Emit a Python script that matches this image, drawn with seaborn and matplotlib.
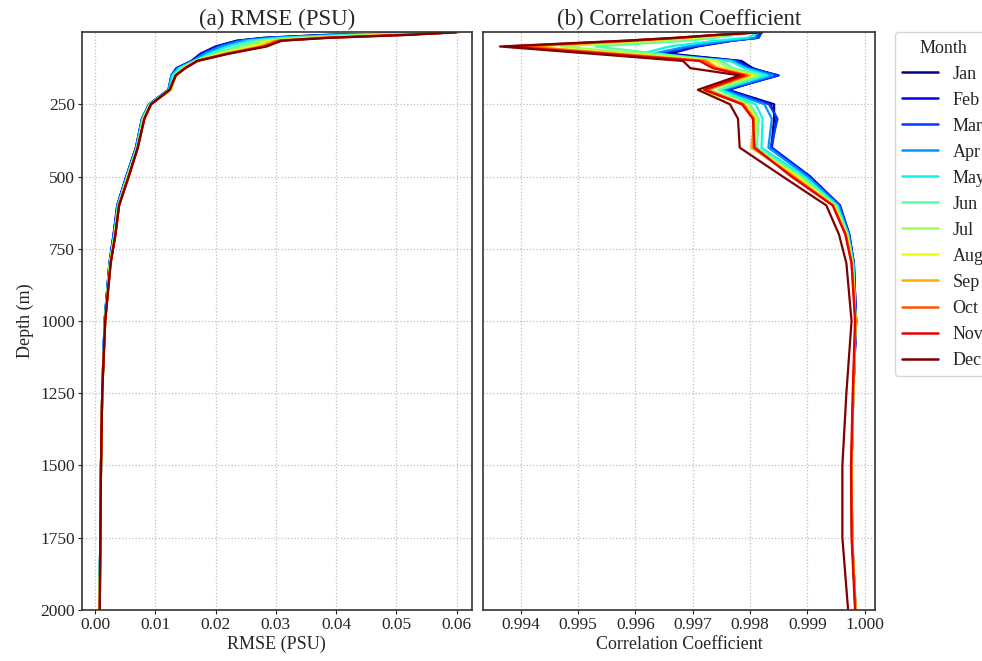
import numpy as np
import pandas as pd
import matplotlib
matplotlib.use("Agg")
import matplotlib.pyplot as plt
import seaborn as sns

# ---------------------------------------------------------------
# data
# ---------------------------------------------------------------
months = ['Jan', 'Feb', 'Mar', 'Apr', 'May', 'Jun',
          'Jul', 'Aug', 'Sep', 'Oct', 'Nov', 'Dec']

depth = [1, 10, 20, 30, 50, 75, 100, 125, 150, 200, 250, 300,
         400, 500, 600, 700, 800, 1000, 1250, 1500, 1750, 2000]

# RMSE (PSU), one list per month
rmse_jan = [0.0598, 0.0380, 0.0280, 0.0235, 0.0200, 0.0175, 0.0160, 0.0135, 0.0127, 0.0122, 0.0090,
            0.0078, 0.0068, 0.0052, 0.0037, 0.0031, 0.0024, 0.0016, 0.0012, 0.0010, 0.0009, 0.0007]
rmse_feb = [0.0598, 0.0385, 0.0283, 0.0237, 0.0202, 0.0176, 0.0161, 0.0136, 0.0127, 0.0122, 0.0090,
            0.0078, 0.0068, 0.0052, 0.0037, 0.0031, 0.0024, 0.0016, 0.0012, 0.0010, 0.0009, 0.0007]
rmse_mar = [0.0599, 0.0392, 0.0288, 0.0240, 0.0205, 0.0178, 0.0162, 0.0137, 0.0127, 0.0122, 0.0090,
            0.0078, 0.0068, 0.0052, 0.0037, 0.0031, 0.0024, 0.0016, 0.0012, 0.0010, 0.0009, 0.0007]
rmse_apr = [0.0599, 0.0400, 0.0295, 0.0245, 0.0210, 0.0182, 0.0163, 0.0138, 0.0127, 0.0122, 0.0090,
            0.0078, 0.0069, 0.0053, 0.0038, 0.0032, 0.0024, 0.0016, 0.0012, 0.0010, 0.0009, 0.0007]
rmse_may = [0.0600, 0.0420, 0.0310, 0.0255, 0.0220, 0.0190, 0.0165, 0.0140, 0.0129, 0.0123, 0.0091,
            0.0079, 0.0069, 0.0053, 0.0038, 0.0032, 0.0025, 0.0016, 0.0012, 0.0010, 0.0009, 0.0007]
rmse_jun = [0.0602, 0.0445, 0.0330, 0.0268, 0.0235, 0.0198, 0.0166, 0.0143, 0.0131, 0.0125, 0.0092,
            0.0080, 0.0070, 0.0054, 0.0039, 0.0033, 0.0025, 0.0017, 0.0012, 0.0010, 0.0009, 0.0007]
rmse_jul = [0.0604, 0.0465, 0.0345, 0.0280, 0.0250, 0.0205, 0.0167, 0.0146, 0.0133, 0.0127, 0.0092,
            0.0080, 0.0070, 0.0054, 0.0039, 0.0033, 0.0025, 0.0017, 0.0012, 0.0010, 0.0009, 0.0007]
rmse_aug = [0.0605, 0.0480, 0.0358, 0.0290, 0.0262, 0.0210, 0.0168, 0.0147, 0.0134, 0.0126, 0.0092,
            0.0081, 0.0071, 0.0055, 0.0040, 0.0033, 0.0025, 0.0017, 0.0012, 0.0010, 0.0009, 0.0008]
rmse_sep = [0.0602, 0.0495, 0.0370, 0.0298, 0.0272, 0.0215, 0.0169, 0.0148, 0.0134, 0.0125, 0.0093,
            0.0081, 0.0071, 0.0055, 0.0040, 0.0034, 0.0026, 0.0017, 0.0012, 0.0010, 0.0009, 0.0008]
rmse_oct = [0.0600, 0.0505, 0.0378, 0.0303, 0.0278, 0.0218, 0.0169, 0.0149, 0.0134, 0.0124, 0.0093,
            0.0082, 0.0071, 0.0056, 0.0040, 0.0034, 0.0026, 0.0017, 0.0012, 0.0010, 0.0009, 0.0008]
rmse_nov = [0.0599, 0.0515, 0.0385, 0.0307, 0.0282, 0.0221, 0.0170, 0.0150, 0.0134, 0.0124, 0.0093,
            0.0082, 0.0071, 0.0056, 0.0040, 0.0034, 0.0026, 0.0017, 0.0012, 0.0010, 0.0009, 0.0008]
rmse_dec = [0.0598, 0.0520, 0.0390, 0.0310, 0.0285, 0.0222, 0.0170, 0.0150, 0.0134, 0.0124, 0.0093,
            0.0082, 0.0071, 0.0056, 0.0040, 0.0034, 0.0026, 0.0017, 0.0012, 0.0010, 0.0009, 0.0008]

# correlation coefficient, one list per month
corr_jan = [0.99815, 0.99813, 0.99811, 0.99770, 0.99708, 0.99660, 0.99785, 0.99805, 0.99845, 0.99762, 0.99842,
            0.99842, 0.99837, 0.99904, 0.99956, 0.99973, 0.99981, 0.99985, 0.99980, 0.99977, 0.99978, 0.99984]
corr_feb = [0.99818, 0.99816, 0.99814, 0.99768, 0.99704, 0.99650, 0.99780, 0.99800, 0.99850, 0.99760, 0.99836,
            0.99846, 0.99838, 0.99905, 0.99957, 0.99973, 0.99981, 0.99985, 0.99980, 0.99977, 0.99978, 0.99984]
corr_mar = [0.99820, 0.99818, 0.99815, 0.99765, 0.99700, 0.99640, 0.99775, 0.99800, 0.99848, 0.99758, 0.99833,
            0.99848, 0.99836, 0.99903, 0.99956, 0.99972, 0.99981, 0.99985, 0.99980, 0.99977, 0.99978, 0.99984]
corr_apr = [0.99816, 0.99812, 0.99808, 0.99760, 0.99690, 0.99630, 0.99770, 0.99795, 0.99840, 0.99752, 0.99825,
            0.99838, 0.99832, 0.99900, 0.99954, 0.99972, 0.99980, 0.99984, 0.99980, 0.99977, 0.99978, 0.99984]
corr_may = [0.99812, 0.99806, 0.99795, 0.99740, 0.99660, 0.99610, 0.99765, 0.99790, 0.99830, 0.99748, 0.99810,
            0.99822, 0.99820, 0.99895, 0.99952, 0.99971, 0.99980, 0.99984, 0.99980, 0.99977, 0.99978, 0.99984]
corr_jun = [0.99805, 0.99775, 0.99740, 0.99690, 0.99530, 0.99640, 0.99750, 0.99770, 0.99820, 0.99745, 0.99800,
            0.99815, 0.99812, 0.99890, 0.99950, 0.99970, 0.99979, 0.99984, 0.99980, 0.99977, 0.99978, 0.99984]
corr_jul = [0.99800, 0.99760, 0.99715, 0.99650, 0.99470, 0.99610, 0.99745, 0.99760, 0.99812, 0.99730, 0.99795,
            0.99812, 0.99808, 0.99886, 0.99948, 0.99969, 0.99979, 0.99984, 0.99980, 0.99977, 0.99978, 0.99984]
corr_aug = [0.99805, 0.99750, 0.99690, 0.99610, 0.99420, 0.99580, 0.99740, 0.99750, 0.99805, 0.99710, 0.99792,
            0.99810, 0.99803, 0.99881, 0.99946, 0.99968, 0.99978, 0.99984, 0.99980, 0.99977, 0.99978, 0.99984]
corr_sep = [0.99808, 0.99748, 0.99686, 0.99605, 0.99410, 0.99570, 0.99725, 0.99745, 0.99800, 0.99722, 0.99790,
            0.99808, 0.99802, 0.99878, 0.99945, 0.99967, 0.99978, 0.99984, 0.99980, 0.99977, 0.99978, 0.99984]
corr_oct = [0.99812, 0.99748, 0.99680, 0.99598, 0.99400, 0.99562, 0.99720, 0.99740, 0.99795, 0.99725, 0.99788,
            0.99806, 0.99806, 0.99875, 0.99945, 0.99967, 0.99977, 0.99984, 0.99980, 0.99977, 0.99978, 0.99984]
corr_nov = [0.99816, 0.99742, 0.99672, 0.99585, 0.99375, 0.99545, 0.99712, 0.99735, 0.99790, 0.99720, 0.99786,
            0.99805, 0.99808, 0.99872, 0.99944, 0.99966, 0.99977, 0.99983, 0.99979, 0.99976, 0.99977, 0.99983]
corr_dec = [0.99822, 0.99740, 0.99669, 0.99580, 0.99364, 0.99524, 0.99683, 0.99696, 0.99782, 0.99709, 0.99765,
            0.99779, 0.99782, 0.99857, 0.99933, 0.99955, 0.99968, 0.99977, 0.99968, 0.99961, 0.99961, 0.99971]

rmse_all = [rmse_jan, rmse_feb, rmse_mar, rmse_apr, rmse_may, rmse_jun,
            rmse_jul, rmse_aug, rmse_sep, rmse_oct, rmse_nov, rmse_dec]
corr_all = [corr_jan, corr_feb, corr_mar, corr_apr, corr_may, corr_jun,
            corr_jul, corr_aug, corr_sep, corr_oct, corr_nov, corr_dec]

rows = []
for m, r_vals, c_vals in zip(months, rmse_all, corr_all):
    for d, r, c in zip(depth, r_vals, c_vals):
        rows.append({'Month': m, 'depth': d, 'rmse': r, 'corr': c})
df = pd.DataFrame(rows)

# ---------------------------------------------------------------
# plot
# ---------------------------------------------------------------
sns.set_style("ticks")
plt.rcParams['font.family'] = ['Liberation Serif', 'DejaVu Serif']
plt.rcParams['axes.edgecolor'] = '0.2'

palette = dict(zip(months, plt.cm.jet(np.linspace(0, 1, len(months)))))

fig = plt.figure(figsize=(9.82, 6.61), dpi=100)
ax1 = fig.add_axes([0.0832, 0.0772, 0.3971, 0.8739])
ax2 = fig.add_axes([0.4922, 0.0772, 0.3989, 0.8739], sharey=ax1)

sns.lineplot(data=df, x='rmse', y='depth', hue='Month', palette=palette,
             sort=False, estimator=None, linewidth=1.6, legend=False, ax=ax1)
sns.lineplot(data=df, x='corr', y='depth', hue='Month', palette=palette,
             sort=False, estimator=None, linewidth=1.6, ax=ax2)

ax1.set_ylim(2000, 1)
ax1.set_yticks([250, 500, 750, 1000, 1250, 1500, 1750, 2000])
ax1.set_xlim(-0.0022, 0.0625)
ax2.set_xlim(0.99335, 1.00018)
ax2.set_xticks([0.994, 0.995, 0.996, 0.997, 0.998, 0.999, 1.000])
ax2.set_xticklabels(['0.994', '0.995', '0.996', '0.997', '0.998', '0.999', '1.000'])

ax1.set_title('(a) RMSE (PSU)', fontsize=16.5, pad=5)
ax2.set_title('(b) Correlation Coefficient', fontsize=16.5, pad=5)
ax1.set_xlabel('RMSE (PSU)', fontsize=13, labelpad=2)
ax2.set_xlabel('Correlation Coefficient', fontsize=13, labelpad=2)
ax1.set_ylabel('Depth (m)', fontsize=13, labelpad=4)
ax2.set_ylabel('')

for ax in (ax1, ax2):
    ax.grid(True, linestyle=':', color='0.75', linewidth=0.9)
    ax.tick_params(labelsize=12.5, length=3, pad=2)
    for sp in ax.spines.values():
        sp.set_linewidth(1.2)
ax2.tick_params(axis='y', labelleft=False, length=0)

sns.move_legend(ax2, 'upper left', bbox_to_anchor=(1.05, 1.0), title='Month',
                fontsize=13, title_fontsize=13, frameon=True, borderaxespad=0)
for line in ax2.get_legend().get_lines():
    line.set_linewidth(1.8)

fig.savefig('out.png', dpi=100)
